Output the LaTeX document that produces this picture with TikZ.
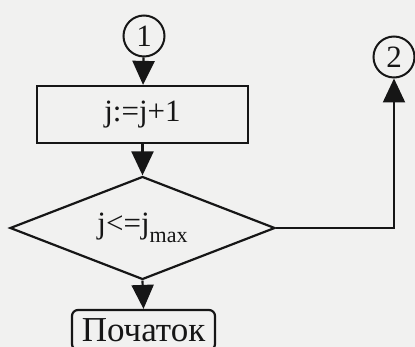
\documentclass[tikz,border=0pt]{standalone}
\usepackage{fontspec}
\setmainfont{Liberation Serif}
\usetikzlibrary{arrows.meta,shapes.geometric}
\definecolor{paper}{RGB}{241,241,240}
\definecolor{ink}{RGB}{22,22,22}
\tikzset{
  every node/.style={text=ink},
  conn/.style={circle,draw=ink,line width=2pt,minimum size=41pt,inner sep=0pt,
    font=\fontsize{31}{31}\selectfont},
  procbox/.style={rectangle,draw=ink,line width=2.2pt,minimum width=211pt,
    minimum height=57pt,inner sep=0pt,font=\fontsize{31}{31}\selectfont},
  decision/.style={diamond,draw=ink,line width=2.2pt,aspect=2.6,minimum width=265pt,
    minimum height=103pt,inner sep=0pt,font=\fontsize{31}{31}\selectfont},
  terminal/.style={rectangle,rounded corners=6pt,draw=ink,line width=2.2pt,
    minimum width=143pt,minimum height=40pt,inner sep=0pt,
    font=\fontsize{35}{35}\selectfont},
  flow/.style={draw=ink,line width=2.2pt,-{Triangle[length=24pt,width=22pt]}}
}
\begin{document}
\begin{tikzpicture}[x=1pt,y=-1pt]
  \clip (0,0) rectangle (415,347);
  \fill[paper] (0,0) rectangle (415,347);

  \node[conn] (c1) at (144,36) {1};
  \node[conn] (c2) at (394,57) {2};
  \node[procbox] (inc) at (142.5,114.5) {j:=j+1};
  \node[decision] (test) at (142.5,228) {j<=j\raisebox{-0.28em}{\fontsize{22}{22}\selectfont max}};
  \node[terminal] (start) at (143.5,330) {Початок};

  \draw[flow] (c1) -- (inc);
  \draw[flow] (inc) -- (test);
  \draw[flow] (test.east) -| (c2.south);
  \draw[flow] (test.south) -- (start.north);
\end{tikzpicture}
\end{document}
